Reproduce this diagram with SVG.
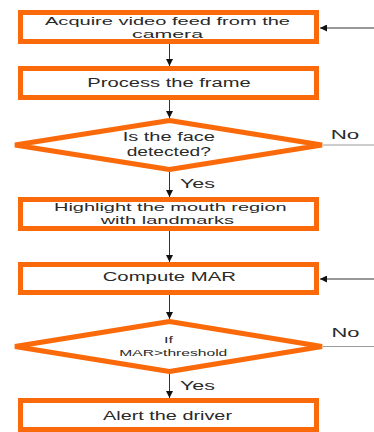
<svg xmlns="http://www.w3.org/2000/svg" width="374" height="432" viewBox="0 0 374 432">
<style>
.box{fill:#fff;stroke:#FA6A0A;stroke-width:5}
.dia{fill:#fff;stroke:#FA6A0A;stroke-width:5;stroke-linejoin:bevel}
.t{font-family:"Liberation Sans",Arial,sans-serif;font-size:12px;fill:#2a2a2a}
.m{font-size:11.2px}
.s{font-size:9.5px}
.ln{stroke:#333;stroke-width:1;fill:none}
.no{stroke:#9a9a9a;stroke-width:1;fill:none}
</style>
<defs>
<marker id="ah" viewBox="0 0 10 10" refX="10" refY="5" markerWidth="7" markerHeight="7" markerUnits="userSpaceOnUse" orient="auto">
<path d="M0,0 L10,5 L0,10 z" fill="#111"/>
</marker>
</defs>
<g id="connectors">
<line class="ln" x1="169.5" y1="44" x2="169.5" y2="66" marker-end="url(#ah)"/>
<line class="ln" x1="169.5" y1="100" x2="169.5" y2="118" marker-end="url(#ah)"/>
<line class="ln" x1="169.5" y1="172" x2="169.5" y2="197" marker-end="url(#ah)"/>
<line class="ln" x1="169.5" y1="231" x2="169.5" y2="262" marker-end="url(#ah)"/>
<line class="ln" x1="169.5" y1="295" x2="169.5" y2="319" marker-end="url(#ah)"/>
<line class="ln" x1="169.5" y1="374" x2="169.5" y2="398" marker-end="url(#ah)"/>
<line class="ln" x1="374" y1="28" x2="320" y2="28" marker-end="url(#ah)"/>
<line class="ln" x1="374" y1="279" x2="320" y2="279" marker-end="url(#ah)"/>
<line class="no" x1="323" y1="145" x2="374" y2="145"/>
<line class="no" x1="323" y1="346.5" x2="374" y2="346.5"/>
<text class="t" x="330.7" y="138.5" textLength="28.6" lengthAdjust="spacingAndGlyphs">No</text>
<text class="t" x="180" y="188" textLength="35" lengthAdjust="spacingAndGlyphs">Yes</text>
<text class="t" x="331.5" y="337" textLength="28" lengthAdjust="spacingAndGlyphs">No</text>
<text class="t" x="180" y="390" textLength="35" lengthAdjust="spacingAndGlyphs">Yes</text>
</g>
<g id="acquire">
<rect class="box" x="20.5" y="12.5" width="296" height="29"/>
<text class="t m" x="45" y="24.5" textLength="245" lengthAdjust="spacingAndGlyphs">Acquire video  feed from the</text>
<text class="t m" x="132" y="37.5" textLength="71" lengthAdjust="spacingAndGlyphs">camera</text>
</g>
<g id="process">
<rect class="box" x="20.5" y="68.5" width="296" height="29"/>
<text class="t" x="87.3" y="87" textLength="163.4" lengthAdjust="spacingAndGlyphs">Process the frame</text>
</g>
<g id="face">
<polygon class="dia" points="15,145 169.5,120.5 322,145 169.5,169.5"/>
<text class="t" x="122.7" y="140.7" textLength="92.3" lengthAdjust="spacingAndGlyphs">Is the face</text>
<text class="t" x="126.7" y="156" textLength="84.3" lengthAdjust="spacingAndGlyphs">detected?</text>
</g>
<g id="highlight">
<rect class="box" x="20.5" y="199.5" width="296" height="29"/>
<text class="t m" x="54" y="210.5" textLength="232.7" lengthAdjust="spacingAndGlyphs">Highlight the mouth region</text>
<text class="t m" x="100.7" y="223.5" textLength="133.3" lengthAdjust="spacingAndGlyphs">with landmarks</text>
</g>
<g id="compute">
<rect class="box" x="20.5" y="264.5" width="296" height="28"/>
<text class="t" x="102.7" y="281" textLength="133.3" lengthAdjust="spacingAndGlyphs">Compute MAR</text>
</g>
<g id="threshold">
<polygon class="dia" points="15,346.5 169.5,321.5 322,346.5 169.5,371.5"/>
<text class="t s" x="164" y="343" textLength="9" lengthAdjust="spacingAndGlyphs">If</text>
<text class="t s" x="119.3" y="356" textLength="108" lengthAdjust="spacingAndGlyphs">MAR&gt;threshold</text>
</g>
<g id="alert">
<rect class="box" x="20.5" y="400.5" width="296" height="29"/>
<text class="t" x="103" y="420" textLength="129" lengthAdjust="spacingAndGlyphs">Alert the driver</text>
</g>
</svg>
